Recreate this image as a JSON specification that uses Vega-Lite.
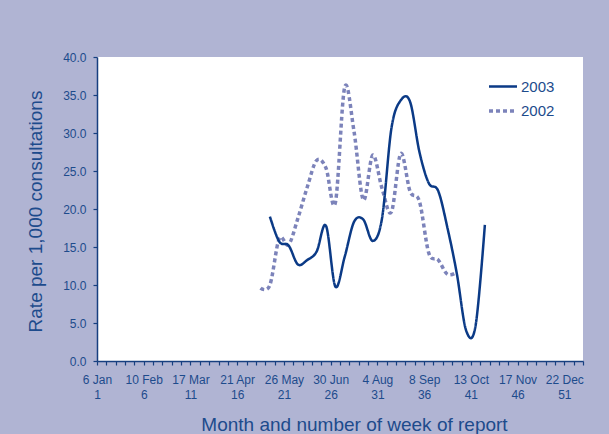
{
  "$schema": "https://vega.github.io/schema/vega-lite/v6.json",
  "width": 486,
  "height": 304,
  "autosize": {"type": "none"},
  "padding": {"left": 97, "top": 57, "right": 26, "bottom": 73},
  "background": "#b0b4d3",
  "view": {"fill": "white", "stroke": null},
  "config": {
    "font": "Liberation Sans",
    "axis": {
      "domainColor": "#163f80",
      "domainWidth": 1.5,
      "tickColor": "#163f80",
      "tickWidth": 1.2,
      "tickSize": 4,
      "labelColor": "#1d4b8c",
      "labelFontSize": 12,
      "titleColor": "#1d4b8c",
      "titleFontWeight": "normal",
      "titleFontSize": 19,
      "grid": false
    }
  },
  "data": {
    "values": [
      {"week": 18, "rate": 9.6, "year": "2002"},
      {"week": 19, "rate": 10.0, "year": "2002"},
      {"week": 20, "rate": 16.1, "year": "2002"},
      {"week": 21, "rate": 15.3, "year": "2002"},
      {"week": 22, "rate": 18.8, "year": "2002"},
      {"week": 23, "rate": 22.9, "year": "2002"},
      {"week": 24, "rate": 26.4, "year": "2002"},
      {"week": 25, "rate": 25.4, "year": "2002"},
      {"week": 26, "rate": 20.8, "year": "2002"},
      {"week": 27, "rate": 36.0, "year": "2002"},
      {"week": 28, "rate": 30.2, "year": "2002"},
      {"week": 29, "rate": 21.2, "year": "2002"},
      {"week": 30, "rate": 27.1, "year": "2002"},
      {"week": 31, "rate": 22.7, "year": "2002"},
      {"week": 32, "rate": 19.6, "year": "2002"},
      {"week": 33, "rate": 27.3, "year": "2002"},
      {"week": 34, "rate": 22.3, "year": "2002"},
      {"week": 35, "rate": 21.0, "year": "2002"},
      {"week": 36, "rate": 14.2, "year": "2002"},
      {"week": 37, "rate": 13.3, "year": "2002"},
      {"week": 38, "rate": 11.4, "year": "2002"},
      {"week": 39, "rate": 11.7, "year": "2002"},
      {"week": 19, "rate": 19.0, "year": "2003"},
      {"week": 20, "rate": 15.7, "year": "2003"},
      {"week": 21, "rate": 15.2, "year": "2003"},
      {"week": 22, "rate": 12.7, "year": "2003"},
      {"week": 23, "rate": 13.3, "year": "2003"},
      {"week": 24, "rate": 14.4, "year": "2003"},
      {"week": 25, "rate": 17.8, "year": "2003"},
      {"week": 26, "rate": 9.8, "year": "2003"},
      {"week": 27, "rate": 13.7, "year": "2003"},
      {"week": 28, "rate": 18.3, "year": "2003"},
      {"week": 29, "rate": 18.6, "year": "2003"},
      {"week": 30, "rate": 15.8, "year": "2003"},
      {"week": 31, "rate": 18.8, "year": "2003"},
      {"week": 32, "rate": 30.6, "year": "2003"},
      {"week": 33, "rate": 34.3, "year": "2003"},
      {"week": 34, "rate": 34.1, "year": "2003"},
      {"week": 35, "rate": 27.5, "year": "2003"},
      {"week": 36, "rate": 23.4, "year": "2003"},
      {"week": 37, "rate": 22.4, "year": "2003"},
      {"week": 38, "rate": 17.5, "year": "2003"},
      {"week": 39, "rate": 11.5, "year": "2003"},
      {"week": 40, "rate": 4.0, "year": "2003"},
      {"week": 41, "rate": 4.6, "year": "2003"},
      {"week": 42, "rate": 17.9, "year": "2003"}
    ]
  },
  "mark": {"type": "line", "interpolate": "cardinal", "strokeCap": "butt"},
  "encoding": {
    "x": {
      "field": "week",
      "type": "quantitative",
      "scale": {"domain": [0.5, 52.5], "nice": false, "zero": false},
      "axis": {
        "title": "Month and number of week of report",
        "values": [0.5,1.5,2.5,3.5,4.5,5.5,6.5,7.5,8.5,9.5,10.5,11.5,12.5,13.5,14.5,15.5,16.5,17.5,18.5,19.5,20.5,21.5,22.5,23.5,24.5,25.5,26.5,27.5,28.5,29.5,30.5,31.5,32.5,33.5,34.5,35.5,36.5,37.5,38.5,39.5,40.5,41.5,42.5,43.5,44.5,45.5,46.5,47.5,48.5,49.5,50.5,51.5,52.5],
        "labelExpr": "((datum.value - 0.5) % 5 == 0 && datum.value < 51) ? [['6 Jan','10 Feb','17 Mar','21 Apr','26 May','30 Jun','4 Aug','8 Sep','13 Oct','17 Nov','22 Dec'][(datum.value - 0.5) / 5], '' + (datum.value + 0.5)] : ''",
        "labelDx": 4.68,
        "labelOverlap": false,
        "labelFlush": false,
        "labelBound": false,
        "labelPadding": 9,
        "labelLineHeight": 15,
        "titleX": 257,
        "titleY": 69,
        "titleBaseline": "alphabetic",
        "titleAnchor": "middle",
        "titleAlign": "center"
      }
    },
    "y": {
      "field": "rate",
      "type": "quantitative",
      "scale": {"domain": [0, 40], "nice": false},
      "axis": {
        "title": "Rate per 1,000 consultations",
        "values": [0, 5, 10, 15, 20, 25, 30, 35, 40],
        "format": ".1f",
        "labelPadding": 7,
        "titlePadding": 10,
        "titleY": 154,
        "titleX": -56,
        "titleBaseline": "alphabetic"
      }
    },
    "color": {
      "field": "year",
      "type": "nominal",
      "scale": {"domain": ["2003", "2002"], "range": ["#0b3a86", "#7c83ba"]},
      "legend": {
        "title": null,
        "orient": "none",
        "legendX": 390,
        "legendY": 14,
        "padding": 0,
        "symbolType": "stroke",
        "symbolSize": 784,
        "symbolStrokeWidth": 3,
        "labelFontSize": 15,
        "labelColor": "#1d4b8c",
        "labelOffset": 2,
        "rowPadding": -10
      }
    },
    "strokeDash": {
      "field": "year",
      "type": "nominal",
      "scale": {"domain": ["2003", "2002"], "range": [[1, 0], [4, 3]]},
      "legend": {
        "title": null,
        "orient": "none",
        "legendX": 390,
        "legendY": 14,
        "padding": 0,
        "symbolType": "stroke",
        "symbolSize": 784,
        "symbolStrokeWidth": 3,
        "labelFontSize": 15,
        "labelColor": "#1d4b8c",
        "labelOffset": 2,
        "rowPadding": -10
      }
    },
    "strokeWidth": {
      "field": "year",
      "type": "nominal",
      "scale": {"domain": ["2003", "2002"], "range": [2.5, 3.5]},
      "legend": null
    }
  }
}
